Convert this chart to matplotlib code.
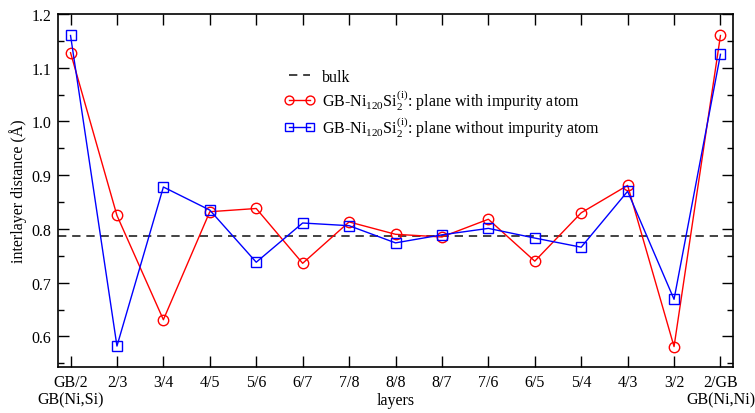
import matplotlib
matplotlib.use("Agg")
import matplotlib.pyplot as plt
from matplotlib.ticker import MultipleLocator

plt.rcParams['font.family'] = ['Liberation Serif', 'DejaVu Serif']
plt.rcParams['mathtext.fontset'] = 'custom'
plt.rcParams['mathtext.rm'] = 'Liberation Serif'
plt.rcParams['mathtext.it'] = 'Liberation Serif:italic'
plt.rcParams['mathtext.bf'] = 'Liberation Serif:bold'

# ---- data ----
layers = ["GB/2\nGB(Ni,Si)", "2/3", "3/4", "4/5", "5/6", "6/7", "7/8", "8/8",
          "8/7", "7/6", "6/5", "5/4", "4/3", "3/2", "2/GB\nGB(Ni,Ni)"]
with_impurity = [1.128, 0.825, 0.631, 0.832, 0.838, 0.736, 0.813, 0.790,
                 0.785, 0.818, 0.740, 0.830, 0.881, 0.581, 1.160]
without_impurity = [1.160, 0.582, 0.878, 0.835, 0.738, 0.811, 0.806, 0.774,
                    0.789, 0.801, 0.783, 0.766, 0.870, 0.669, 1.125]
bulk = 0.786

label_bulk = "bulk"
label_with = r"GB-Ni$_{\mathrm{120}}$Si$_{\mathrm{2}}^{\mathrm{(i)}}$: plane with impurity atom"
label_without = r"GB-Ni$_{\mathrm{120}}$Si$_{\mathrm{2}}^{\mathrm{(i)}}$: plane without impurity atom"

fig = plt.figure(figsize=(7.55, 4.14), dpi=100)
ax = fig.add_axes([58/755, 1-368/414, (733-58)/755, (368-15)/414])

x = list(range(len(layers)))
ax.axhline(bulk, color='#222222', lw=1.2, ls=(0, (5, 3.5)), label=label_bulk)
ax.plot(x, with_impurity, color='#ff0000', lw=1.0, marker='o', ms=7.5,
        mfc='none', mec='#ff0000', mew=1.0, label=label_with)
ax.plot(x, without_impurity, color='#0000ff', lw=1.0, marker='s', ms=6.5,
        mfc='none', mec='#0000ff', mew=1.0, label=label_without)

ax.set_xlim(-0.27, 14.27)
ax.set_ylim(0.543, 1.2)
ax.set_xticks(x)
ax.set_xticklabels(layers, fontsize=11.5, linespacing=1.15)
ax.yaxis.set_major_locator(MultipleLocator(0.1))
ax.yaxis.set_minor_locator(MultipleLocator(0.05))
ax.yaxis.set_major_formatter(matplotlib.ticker.FormatStrFormatter('%.1f'))
ax.tick_params(axis='both', which='major', direction='in', length=8, width=1.0,
               top=True, right=True, labelsize=11.5, pad=5)
ax.tick_params(axis='y', which='minor', direction='in', length=4, width=1.0,
               right=True)
for s in ax.spines.values():
    s.set_linewidth(1.2)

fig.text(395.5/755, 1-401/414, "layers", fontsize=11.5, ha='center', va='center')
ax.set_ylabel("interlayer distance (Å)", fontsize=11.5, labelpad=3)

leg = ax.legend(loc='upper left', bbox_to_anchor=(284/755, 1-70/414),
                bbox_transform=fig.transFigure, frameon=False, fontsize=11.5,
                handlelength=1.9, handletextpad=0.45, labelspacing=0.12,
                borderpad=0, borderaxespad=0, numpoints=2, markerscale=0.85)

fig.savefig("out.png", dpi=100)
